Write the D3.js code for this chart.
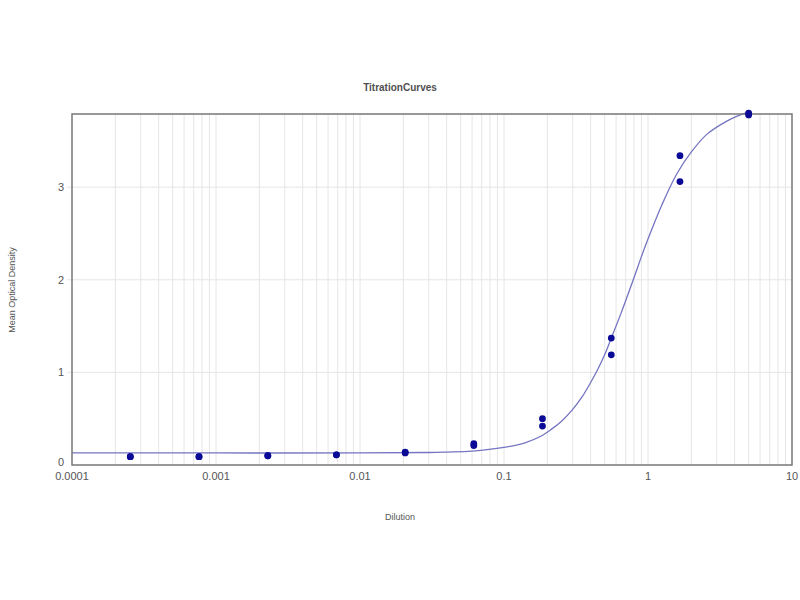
<!DOCTYPE html>
<html>
<head>
<meta charset="utf-8">
<script src="https://cdn.jsdelivr.net/npm/d3@7"></script>
<style>
  body { margin: 0; background: #fff; }
  text { font-family: "Liberation Sans", Arial, sans-serif; }
</style>
</head>
<body>
<div id="chart"></div>
<script>
// measured points: dilution and mean OD (duplicates)
var dilution = [0.000254, 0.000254, 0.000762, 0.000762, 0.00229, 0.00229, 0.00686, 0.00686,
                0.0206, 0.0206, 0.0617, 0.0617, 0.185, 0.185, 0.556, 0.556, 1.667, 1.667, 5, 5];
var od = [0.09, 0.09, 0.09, 0.09, 0.10, 0.10, 0.11, 0.11,
          0.13, 0.14, 0.21, 0.23, 0.42, 0.50, 1.19, 1.37, 3.06, 3.34, 3.78, 3.80];

// fitted curve
var curveX = [0.0001, 0.001, 0.01, 0.03, 0.04, 0.06, 0.1, 0.14, 0.18, 0.215, 0.25, 0.3, 0.35, 0.406,
              0.45, 0.5, 0.556, 0.65, 0.79, 0.9, 1.0, 1.25, 1.58, 2.0, 2.56, 3.5, 4.2, 5];
var curveY = [0.13, 0.13, 0.13, 0.135, 0.14, 0.15, 0.19, 0.24, 0.31, 0.39, 0.47, 0.60, 0.74, 0.91,
              1.04, 1.19, 1.37, 1.64, 2.0, 2.25, 2.44, 2.81, 3.14, 3.38, 3.57, 3.71, 3.77, 3.81];

var xTicks = [0.0001, 0.001, 0.01, 0.1, 1, 10];
var xTickLabels = ["0.0001", "0.001", "0.01", "0.1", "1", "10"];
var yTicks = [0, 1, 2, 3];

var margin = { top: 114, right: 8, bottom: 135, left: 72 },
    width = 800 - margin.left - margin.right,
    height = 600 - margin.top - margin.bottom;

var svg = d3.select("#chart")
    .append("svg")
    .attr("width", 800)
    .attr("height", 600);

var g = svg.append("g")
    .attr("transform", "translate(" + margin.left + "," + margin.top + ")");

var x = d3.scaleLog().domain([0.0001, 10]).range([0, width]);
var y = d3.scaleLinear().domain([0, 3.79]).range([height, 0]);

// minor + major vertical grid lines
var vgrid = [];
for (var e = -4; e < 1; e++) {
    for (var m = 1; m < 10; m++) vgrid.push(m * Math.pow(10, e));
}
g.selectAll(".vgrid")
    .data(vgrid.slice(1))
    .enter().append("line")
    .attr("class", "vgrid")
    .attr("x1", function (d) { return x(d); })
    .attr("x2", function (d) { return x(d); })
    .attr("y1", 0)
    .attr("y2", height)
    .style("stroke", "#e6e6e6")
    .style("stroke-width", 1);

// horizontal grid
g.selectAll(".hgrid")
    .data(yTicks.slice(1))
    .enter().append("line")
    .attr("class", "hgrid")
    .attr("x1", -5)
    .attr("x2", width)
    .attr("y1", function (d) { return y(d); })
    .attr("y2", function (d) { return y(d); })
    .style("stroke", "#e6e6e6")
    .style("stroke-width", 1);

// fitted curve
var line = d3.line()
    .x(function (d, i) { return x(curveX[i]); })
    .y(function (d) { return y(d); })
    .curve(d3.curveCatmullRom);

g.append("path")
    .attr("d", line(curveY))
    .style("fill", "none")
    .style("stroke", "#7474c2")
    .style("stroke-width", 1.3);

// frame
g.append("rect")
    .attr("width", width)
    .attr("height", height)
    .style("fill", "none")
    .style("stroke", "#777")
    .style("stroke-width", 1.5);

// points
g.selectAll(".pt")
    .data(od)
    .enter().append("circle")
    .attr("class", "pt")
    .attr("cx", function (d, i) { return x(dilution[i]); })
    .attr("cy", function (d) { return y(d); })
    .attr("r", 3.4)
    .style("fill", "#0a0a96");

// axis labels
g.selectAll(".xlab")
    .data(xTicks)
    .enter().append("text")
    .attr("x", function (d) { return x(d); })
    .attr("y", height + 15)
    .style("text-anchor", "middle")
    .style("font-size", "11px")
    .style("fill", "#555")
    .text(function (d, i) { return xTickLabels[i]; });

g.selectAll(".ylab")
    .data(yTicks)
    .enter().append("text")
    .attr("x", -8)
    .attr("y", function (d) { return y(d) + (d === 0 ? 1 : 4); })
    .style("text-anchor", "end")
    .style("font-size", "11px")
    .style("fill", "#555")
    .text(function (d) { return d; });

svg.append("text")
    .attr("x", 400)
    .attr("y", 91)
    .style("text-anchor", "middle")
    .style("font-size", "10px")
    .style("font-weight", "bold")
    .style("fill", "#505050")
    .text("TitrationCurves");

svg.append("text")
    .attr("x", 400)
    .attr("y", 520)
    .style("text-anchor", "middle")
    .style("font-size", "9px")
    .style("fill", "#555")
    .text("Dilution");

svg.append("text")
    .attr("transform", "translate(15,290) rotate(-90)")
    .style("text-anchor", "middle")
    .style("font-size", "9px")
    .style("fill", "#555")
    .text("Mean Optical Density");
</script>
</body>
</html>
